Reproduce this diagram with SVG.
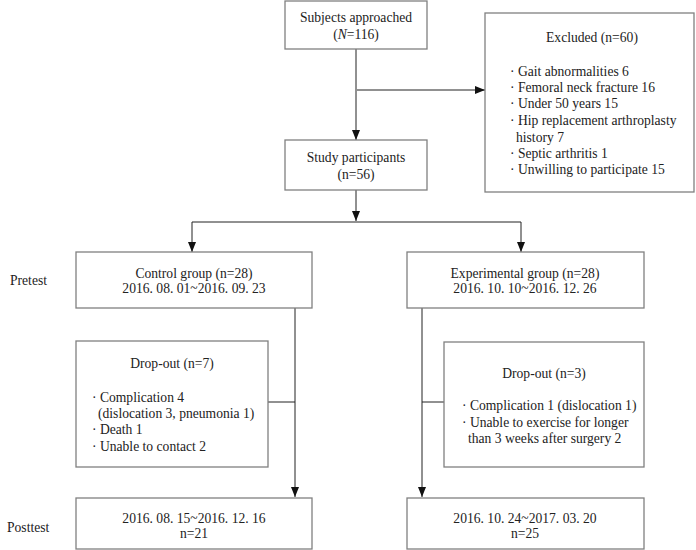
<svg xmlns="http://www.w3.org/2000/svg" width="696" height="550" viewBox="0 0 696 550">
<style>
.box{fill:#fff;stroke:#808080;stroke-width:1.3}
.ln{fill:none;stroke:#222;stroke-width:1}
text{font-family:"Liberation Serif","Times New Roman",serif;font-size:13.6px;fill:#222}
.c{text-anchor:middle}
</style>
<defs>
<marker id="ah" viewBox="0 0 10 10" refX="10" refY="5" markerWidth="10" markerHeight="10" markerUnits="userSpaceOnUse" orient="auto">
<path d="M0,1 L10,5 L0,9 Z" fill="#111"/>
</marker>
</defs>
<g id="connectors">
<path class="ln" d="M356,49 V140" marker-end="url(#ah)"/>
<path class="ln" d="M357,90 H485" marker-end="url(#ah)"/>
<path class="ln" d="M356,190 V221" marker-end="url(#ah)"/>
<path class="ln" d="M192,222 H521"/>
<path class="ln" d="M192,222 V252" marker-end="url(#ah)"/>
<path class="ln" d="M521,222 V252" marker-end="url(#ah)"/>
<path class="ln" d="M295,308 V497" marker-end="url(#ah)"/>
<path class="ln" d="M268,402 H295"/>
<path class="ln" d="M422,308 V497" marker-end="url(#ah)"/>
<path class="ln" d="M422,402 H444"/>
</g>
<g id="subjects">
<rect class="box" x="285" y="1" width="142" height="48"/>
<text class="c" x="356" y="21.5">Subjects approached</text>
<text class="c" x="356" y="38.5">(<tspan font-style="italic">N</tspan>=116)</text>
</g>
<g id="excluded">
<rect class="box" x="485" y="13" width="209" height="179"/>
<text class="c" x="592" y="41.5">Excluded (n=60)</text>
<text x="510" y="75.5">· Gait abnormalities 6</text>
<text x="510" y="91.5">· Femoral neck fracture 16</text>
<text x="510" y="107.5">· Under 50 years 15</text>
<text x="510" y="124.5">· Hip replacement arthroplasty</text>
<text x="516" y="141.5">history 7</text>
<text x="510" y="157.5">· Septic arthritis 1</text>
<text x="510" y="173.5">· Unwilling to participate 15</text>
</g>
<g id="participants">
<rect class="box" x="285" y="140" width="142" height="50"/>
<text class="c" x="356" y="161.5">Study participants</text>
<text class="c" x="356" y="178.5">(n=56)</text>
</g>
<g id="pretest-label"><text x="10" y="284.5">Pretest</text></g>
<g id="posttest-label"><text x="7" y="531.5">Posttest</text></g>
<g id="control">
<rect class="box" x="76" y="252" width="236" height="56"/>
<text class="c" x="194" y="277.5">Control group (n=28)</text>
<text class="c" x="194" y="292.5">2016. 08. 01~2016. 09. 23</text>
</g>
<g id="experimental">
<rect class="box" x="407" y="252" width="237" height="56"/>
<text class="c" x="525" y="277.5">Experimental group (n=28)</text>
<text class="c" x="525" y="292.5">2016. 10. 10~2016. 12. 26</text>
</g>
<g id="dropout-control">
<rect class="box" x="76" y="341" width="192" height="126"/>
<text class="c" x="172" y="367.5">Drop-out (n=7)</text>
<text x="92" y="401.5">· Complication 4</text>
<text x="98" y="417.5">(dislocation 3, pneumonia 1)</text>
<text x="92" y="433.5">· Death 1</text>
<text x="92" y="450.5">· Unable to contact 2</text>
</g>
<g id="dropout-experimental">
<rect class="box" x="444" y="342" width="200" height="125"/>
<text class="c" x="544" y="377.5">Drop-out (n=3)</text>
<text x="462" y="409.5">· Complication 1 (dislocation 1)</text>
<text x="462" y="426.5">· Unable to exercise for longer</text>
<text x="468" y="442.5">than 3 weeks after surgery 2</text>
</g>
<g id="posttest-control">
<rect class="box" x="76" y="498" width="236" height="51"/>
<text class="c" x="194" y="522.5">2016. 08. 15~2016. 12. 16</text>
<text class="c" x="194" y="537.5">n=21</text>
</g>
<g id="posttest-experimental">
<rect class="box" x="407" y="498" width="237" height="51"/>
<text class="c" x="525" y="522.5">2016. 10. 24~2017. 03. 20</text>
<text class="c" x="525" y="537.5">n=25</text>
</g>
</svg>
